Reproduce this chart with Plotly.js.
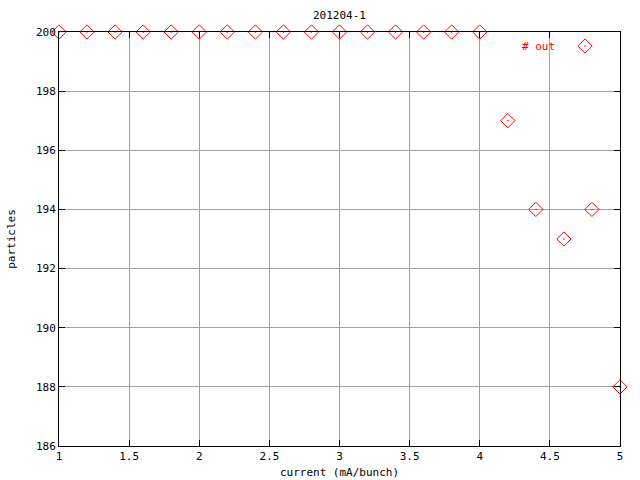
<!DOCTYPE html>
<html><head><meta charset="utf-8">
<script src="https://cdn.plot.ly/plotly-3.0.1.min.js"></script>
<style>body{margin:0;padding:0;background:#fff}#c{width:640px;height:480px}</style>
</head><body><div id="c"></div>
<script>
const current = [1, 1.2, 1.4, 1.6, 1.8, 2, 2.2, 2.4, 2.6, 2.8, 3, 3.2, 3.4, 3.6, 3.8, 4, 4.2, 4.4, 4.6, 4.8, 5];
const particles = [200, 200, 200, 200, 200, 200, 200, 200, 200, 200, 200, 200, 200, 200, 200, 200, 197, 194, 193, 194, 188];
const xTicks = [1, 1.5, 2, 2.5, 3, 3.5, 4, 4.5, 5];
const yTicks = [186, 188, 190, 192, 194, 196, 198, 200];

const F = 'DejaVu Sans Mono, Liberation Mono, monospace';
const trace = {
  x: current, y: particles, type: 'scatter', mode: 'markers', name: ' ',
  marker: {symbol: 'diamond-open-dot', size: 11, color: '#ff0000', line: {width: 1, color: '#ff0000'}},
  cliponaxis: false
};
const axisCommon = {
  showline: true, linecolor: '#000', linewidth: 1, mirror: 'ticks',
  ticks: 'inside', ticklen: 6, tickcolor: '#000', tickwidth: 1,
  showgrid: true, gridcolor: '#a0a0a0', gridwidth: 1, zeroline: false,
  layer: 'above traces',
  tickfont: {family: F, size: 11, color: '#000'}
};
const layout = {
  width: 640, height: 480,
  margin: {l: 59, r: 20, t: 32, b: 34},
  paper_bgcolor: '#fff', plot_bgcolor: '#fff',
  font: {family: F, size: 11, color: '#000'},
  title: {text: '201204-1', x: 0.5, xref: 'paper', y: 1 - 15/480, yref: 'container', yanchor: 'middle', font: {family: F, size: 11, color: '#000'}},
  xaxis: Object.assign({}, axisCommon, {range: [1, 5], tickvals: xTicks, ticktext: xTicks.map(String),
    title: {text: 'current (mA/bunch)', standoff: 6, font: {family: F, size: 11}}}),
  yaxis: Object.assign({}, axisCommon, {range: [186, 200], tickvals: yTicks, ticktext: yTicks.map(String),
    title: {text: 'particles', standoff: 18, font: {family: F, size: 11}}}),
  showlegend: true,
  legend: {x: 0.902, xanchor: 'left', y: 0.966, yanchor: 'middle', bgcolor: 'rgba(0,0,0,0)',
    font: {family: F, size: 11, color: '#ff0000'}, itemwidth: 30},
  annotations: [{text: '# out', xref: 'paper', yref: 'paper', x: 0.854, y: 0.966, xanchor: 'center', yanchor: 'middle',
    showarrow: false, font: {family: F, size: 11, color: '#ff0000'}}]
};
Plotly.newPlot('c', [trace], layout, {displayModeBar: false, staticPlot: true});
</script></body></html>
